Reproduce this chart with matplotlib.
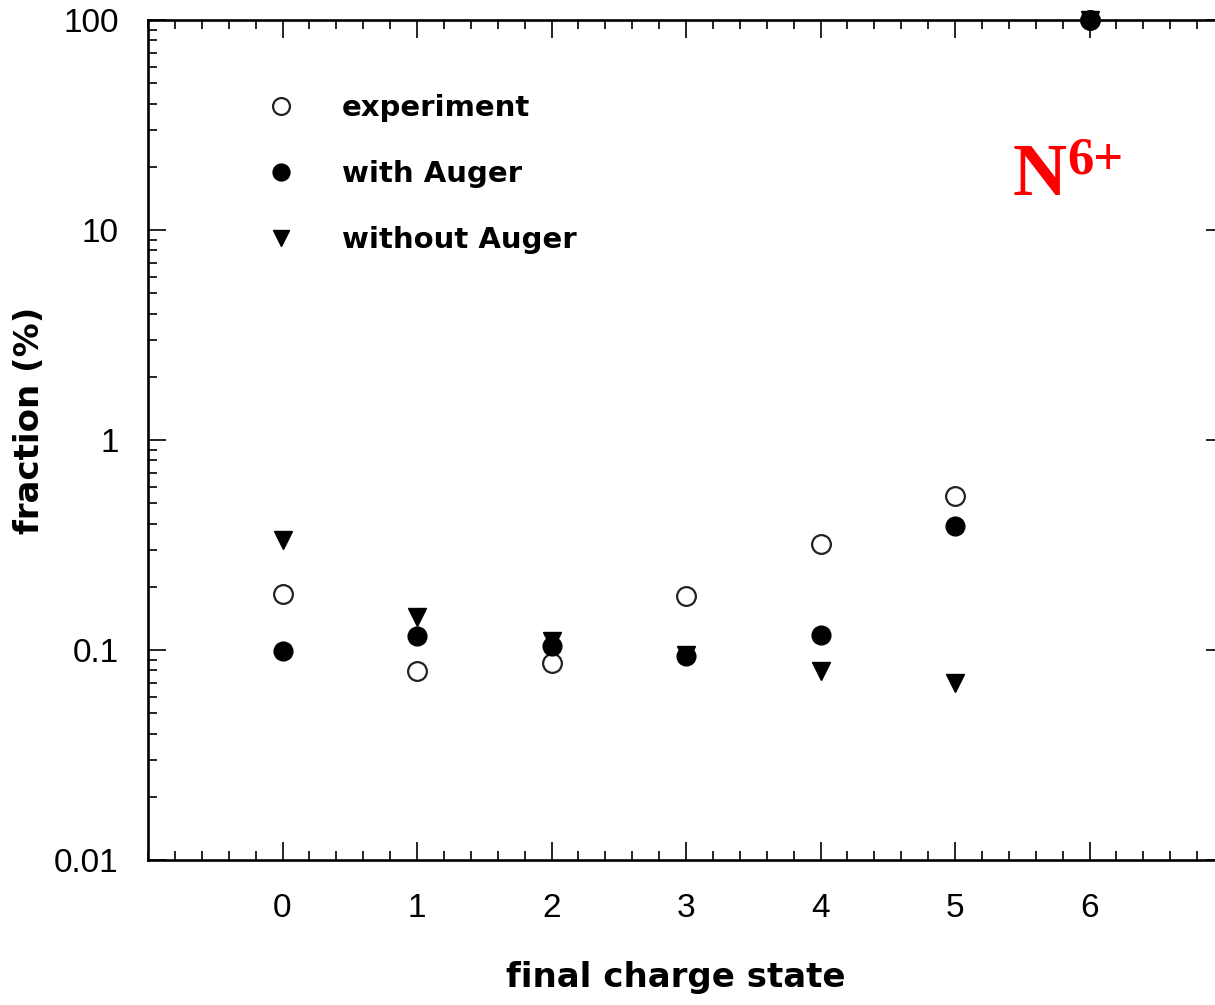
import matplotlib
matplotlib.use("Agg")
import matplotlib.pyplot as plt
from matplotlib.ticker import FixedLocator, LogLocator, NullFormatter

# valores (fracao em %)
carga = [0, 1, 2, 3, 4, 5, 6]
experimento = [0.185, 0.079, 0.087, 0.181, 0.32, 0.54, 100]
com_auger = [0.099, 0.117, 0.105, 0.094, 0.118, 0.39, 100]
sem_auger = [0.335, 0.144, 0.110, 0.095, 0.079, 0.070, 100]

rotulos_y = ["0.01", "0.1", "1", "10", "100"]
valores_y = [0.01, 0.1, 1, 10, 100]

W, H = 1215, 1005
fig = plt.figure(figsize=(W / 100, H / 100), dpi=100)
# eixo vai um pouco alem da borda direita (x = 7 fica fora da imagem)
ax = fig.add_axes([148 / W, (H - 860) / H, (1224 - 148) / W, (860 - 20) / H])

ms = 13.5
ax.plot(carga, experimento, 'o', ms=ms, mfc='white', mec='#222222', mew=1.6,
        clip_on=False, label='experiment', zorder=3)
ax.plot(carga, com_auger, 'o', ms=ms, mfc='black', mec='black',
        clip_on=False, label='with Auger', zorder=4)
ax.plot(carga, sem_auger, 'v', ms=ms, mfc='black', mec='black',
        clip_on=False, label='without Auger', zorder=5)

ax.set_yscale('log')
ax.set_xlim(-1, 7)
ax.set_ylim(0.01, 100)

ax.xaxis.set_major_locator(FixedLocator(carga))
ax.xaxis.set_minor_locator(FixedLocator([-1 + 0.2 * i for i in range(41)]))
ax.set_yticks(valores_y)
ax.set_yticklabels(rotulos_y)
ax.yaxis.set_minor_locator(LogLocator(base=10, subs=range(2, 10)))
ax.yaxis.set_minor_formatter(NullFormatter())

fonte_ticks = 'Liberation Sans'
for lab in ax.get_xticklabels() + ax.get_yticklabels():
    lab.set_fontfamily(fonte_ticks)
    lab.set_fontsize(24)

ax.tick_params(which='both', direction='in', top=True, right=True,
               colors='black', width=1.2)
ax.tick_params(which='major', length=13)
ax.tick_params(which='minor', length=6.5)
ax.tick_params(axis='y', which='major', pad=21)
ax.tick_params(axis='x', which='major', pad=24)

for s in ax.spines.values():
    s.set_linewidth(1.9)
    s.set_color('black')

fig.text(676 / W, 1 - 978 / H, 'final charge state', ha='center', va='center',
         fontsize=24.5, fontweight='bold', family='DejaVu Sans')
fig.text(30 / W, 1 - 420 / H, 'fraction (%)', ha='center', va='center',
         rotation=90, fontsize=24.5, fontweight='bold', family='DejaVu Sans')

leg = ax.legend(loc='upper left', bbox_to_anchor=((266 - 148) / 1076, (860 - 94) / 840),
                frameon=False, handlelength=1.0, handletextpad=1.6,
                labelspacing=1.3, borderpad=0, borderaxespad=0, markerscale=0.9,
                prop={'family': 'DejaVu Sans', 'weight': 'bold', 'size': 21})

# rotulo do ion
ax.text((1013 - 148) / 1076, (860 - 195) / 840, 'N', transform=ax.transAxes,
        color='red', fontsize=54, fontweight='bold', family='Liberation Serif',
        ha='left', va='baseline')
ax.text((1067 - 148) / 1076, (860 - 173) / 840, '6+', transform=ax.transAxes,
        color='red', fontsize=38, fontweight='bold', family='Liberation Serif',
        ha='left', va='baseline')

fig.savefig('out.png', dpi=100, facecolor='white')
